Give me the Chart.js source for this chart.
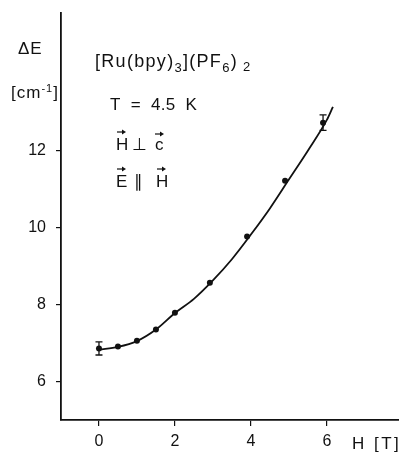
<!DOCTYPE html>
<html>
<head>
<meta charset="UTF-8">
<title>Delta E vs H</title>
<script src="https://cdn.jsdelivr.net/npm/chart.js"></script>
<style>
  html, body { margin: 0; padding: 0; background: #fff; }
  #wrap { width: 399px; height: 452px; }
</style>
</head>
<body>
<div id="wrap"><canvas id="c"></canvas></div>
<script>
// measured points (H in T, dE in cm-1)
const fieldH = [0, 0.5, 1, 1.5, 2, 2.92, 3.9, 4.9, 5.9];
const deltaE = [6.86, 6.91, 7.06, 7.35, 7.79, 8.57, 9.77, 11.22, 12.73];
const errBar = [0.17, 0, 0, 0, 0, 0, 0, 0, 0.2];
// fitted curve
const fitH = [0, 0.5, 1, 1.5, 2, 2.5, 3, 3.5, 4, 4.5, 5, 5.5, 6, 6.16];
const fitE = [6.83, 6.9, 7.05, 7.35, 7.78, 8.15, 8.63, 9.18, 9.82, 10.5, 11.25, 12.0, 12.8, 13.14];
const xTicks = [0, 2, 4, 6];
const yTicks = [6, 8, 10, 12];

const FONT = '"Liberation Sans", Arial, sans-serif';
const INK = '#111';

function drawRuns(ctx, x, y, runs, spacing) {
  // runs: [text, size, dy]
  ctx.letterSpacing = (spacing || 0) + 'px';
  for (const [t, size, dy] of runs) {
    ctx.font = size + 'px ' + FONT;
    ctx.fillText(t, x, y + dy);
    x += ctx.measureText(t).width;
  }
  ctx.letterSpacing = '0px';
  return x;
}

function vecArrow(ctx, x0, x1, y) {
  ctx.beginPath();
  ctx.moveTo(x0, y);
  ctx.lineTo(x1 - 1, y);
  ctx.stroke();
  ctx.beginPath();
  ctx.moveTo(x1 + 1, y);
  ctx.lineTo(x1 - 3, y - 2.5);
  ctx.lineTo(x1 - 3, y + 2.5);
  ctx.closePath();
  ctx.fill();
}

const extras = {
  id: 'extras',
  afterDatasetsDraw(chart) {
    const ctx = chart.ctx;
    const xs = chart.scales.x, ys = chart.scales.y;
    ctx.save();
    // error bars
    ctx.strokeStyle = INK;
    ctx.lineWidth = 1.3;
    fieldH.forEach((h, i) => {
      if (!errBar[i]) return;
      const px = xs.getPixelForValue(h);
      const top = ys.getPixelForValue(deltaE[i] + errBar[i]);
      const bot = ys.getPixelForValue(deltaE[i] - errBar[i]);
      ctx.beginPath();
      ctx.moveTo(px, top); ctx.lineTo(px, bot);
      ctx.moveTo(px - 3.5, top); ctx.lineTo(px + 3.5, top);
      ctx.moveTo(px - 3.5, bot); ctx.lineTo(px + 3.5, bot);
      ctx.stroke();
    });

    ctx.fillStyle = INK;
    ctx.textBaseline = 'alphabetic';
    ctx.textAlign = 'left';
    // axis titles
    drawRuns(ctx, 18, 54, [['\u0394E', 17, 0]], 1);
    drawRuns(ctx, 11, 98, [['[cm', 17, 0], ['-1', 11, -6], [']', 17, 0]], 1);
    drawRuns(ctx, 352, 449, [['H [T]', 17, 0]], 2.5);

    // compound
    drawRuns(ctx, 95, 67, [['[Ru(bpy)', 18, 0], ['3', 13, 5], ['](PF', 18, 0], ['6', 13, 5], [')', 18, 0], [' 2', 13, 4]], 1.3);
    drawRuns(ctx, 110, 110, [['T  =  4.5  K', 17, 0]], 0.3);

    // H perp c
    ctx.font = '17px ' + FONT;
    ctx.fillText('H', 116, 150);
    ctx.fillText('\u22A5', 132, 150);
    ctx.fillText('c', 155, 150);
    // E || H
    ctx.fillText('E', 116, 187);
    ctx.fillText('\u2225', 134, 187);
    ctx.fillText('H', 156, 187);
    ctx.lineWidth = 1.2;
    ctx.strokeStyle = INK;
    vecArrow(ctx, 117, 125, 132);
    vecArrow(ctx, 155, 163, 134);
    vecArrow(ctx, 117, 125, 169);
    vecArrow(ctx, 157, 165, 169);
    ctx.restore();
  }
};

new Chart(document.getElementById('c'), {
  type: 'scatter',
  data: {
    datasets: [
      {
        type: 'line',
        data: fitH.map((h, i) => ({ x: h, y: fitE[i] })),
        borderColor: INK,
        borderWidth: 1.8,
        pointRadius: 0,
        cubicInterpolationMode: 'monotone',
        fill: false
      },
      {
        data: fieldH.map((h, i) => ({ x: h, y: deltaE[i] })),
        backgroundColor: INK,
        borderColor: INK,
        pointRadius: 3,
        pointBorderWidth: 0
      }
    ]
  },
  options: {
    responsive: true,
    maintainAspectRatio: false,
    animation: false,
    layout: { autoPadding: false, padding: { top: 13, right: 0, left: 0, bottom: 0 } },
    plugins: { legend: { display: false }, tooltip: { enabled: false } },
    scales: {
      x: {
        type: 'linear',
        min: -1, max: 7.9,
        afterBuildTicks: s => { s.ticks = xTicks.map(v => ({ value: v })); },
        afterFit: s => { s.height = 32; s.paddingLeft = 0; s.paddingRight = 0; },
        grid: { drawOnChartArea: false, drawTicks: true, tickLength: 6, color: INK, lineWidth: 1.2 },
        border: { display: true, color: INK, width: 1.8 },
        ticks: { autoSkip: false, maxRotation: 0, padding: 6, color: INK, font: { family: FONT, size: 16 } }
      },
      y: {
        type: 'linear',
        min: 5, max: 15.58,
        afterBuildTicks: s => { s.ticks = yTicks.map(v => ({ value: v })); },
        afterFit: s => { s.width = 61; s.paddingTop = 0; s.paddingBottom = 0; },
        grid: { drawOnChartArea: false, drawTicks: true, tickLength: 5, color: INK, lineWidth: 1.2 },
        border: { display: true, color: INK, width: 1.8 },
        ticks: { autoSkip: false, padding: 10, color: INK, font: { family: FONT, size: 16 } }
      }
    }
  },
  plugins: [extras]
});
</script>
</body>
</html>
